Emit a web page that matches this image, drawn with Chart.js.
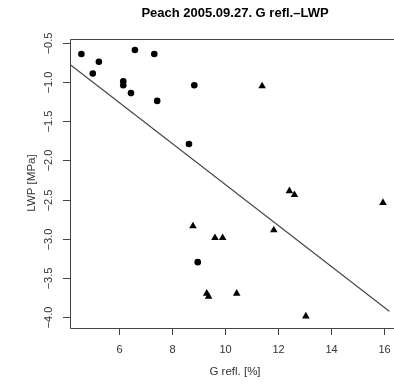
<!DOCTYPE html>
<html>
<head>
<meta charset="utf-8">
<script src="https://cdn.jsdelivr.net/npm/chart.js@4/dist/chart.umd.min.js"></script>
<style>
  body { margin: 0; background: #fff; }
  canvas { display: block; }
</style>
</head>
<body>
<canvas id="plot" width="394" height="391"></canvas>
<script>
// Circles: first group, G refl. [%] vs LWP [MPa]
const circleX = [4.58, 5.24, 5.01, 6.60, 7.33, 6.16, 6.16, 6.45, 7.44, 8.84, 8.64, 8.97];
const circleY = [-0.64, -0.74, -0.89, -0.59, -0.64, -0.99, -1.04, -1.14, -1.24, -1.04, -1.79, -3.30];

// Triangles: second group
const triX = [11.40, 12.43, 12.62, 15.96, 8.79, 11.84, 9.62, 9.91, 9.31, 9.38, 10.44, 13.05];
const triY = [-1.05, -2.39, -2.44, -2.54, -2.84, -2.89, -2.99, -2.99, -3.70, -3.74, -3.70, -3.99];

// fitted line LWP = a + b * G
const fitA = 0.312;
const fitB = -0.2617;

const xTicks = [6, 8, 10, 12, 14, 16];
const yTicks = [-0.5, -1.0, -1.5, -2.0, -2.5, -3.0, -3.5, -4.0];

const xMin = 4.15, xMax = 16.21;
const yMin = -4.141, yMax = -0.449;

const toPts = (xs, ys) => xs.map((x, i) => ({ x: x, y: ys[i] }));
const fitLine = [xMin, xMax].map(x => ({ x: x, y: fitA + fitB * x }));

const FONT = '"Liberation Sans", Arial, sans-serif';

// draws the R-style box, ticks, labels and titles
const rAxes = {
  id: 'rAxes',
  afterDraw(chart) {
    const ctx = chart.ctx;
    const a = chart.chartArea;
    const xs = chart.scales.x, ys = chart.scales.y;
    ctx.save();
    ctx.strokeStyle = '#444';
    ctx.lineWidth = 1;
    ctx.beginPath();
    ctx.moveTo(a.right + 5, a.top + 0.5);
    ctx.lineTo(a.left + 0.5, a.top + 0.5);
    ctx.lineTo(a.left + 0.5, a.bottom + 0.5);
    ctx.lineTo(a.right + 5, a.bottom + 0.5);
    ctx.stroke();

    ctx.fillStyle = '#333';
    ctx.font = '11px ' + FONT;
    ctx.textAlign = 'center';
    ctx.textBaseline = 'middle';
    xTicks.forEach(v => {
      const px = Math.round(xs.getPixelForValue(v)) + 0.5;
      ctx.beginPath();
      ctx.moveTo(px, a.bottom);
      ctx.lineTo(px, a.bottom + 7);
      ctx.stroke();
      ctx.fillText(String(v), px, a.bottom + 22);
    });
    yTicks.forEach(v => {
      const py = Math.round(ys.getPixelForValue(v)) + 0.5;
      ctx.beginPath();
      ctx.moveTo(a.left - 7, py);
      ctx.lineTo(a.left, py);
      ctx.stroke();
      ctx.save();
      ctx.translate(a.left - 21, py);
      ctx.rotate(-Math.PI / 2);
      ctx.fillText(v.toFixed(1).replace('-', '\u2212'), 0, 0);
      ctx.restore();
    });

    ctx.font = '11.5px ' + FONT;
    ctx.fillText('G refl. [%]', 235, 372);
    ctx.save();
    ctx.translate(32, 183);
    ctx.rotate(-Math.PI / 2);
    ctx.fillText('LWP [MPa]', 0, 0);
    ctx.restore();

    ctx.fillStyle = '#000';
    ctx.font = 'bold 13px ' + FONT;
    ctx.fillText('Peach 2005.09.27. G refl.\u2013LWP', 235, 13);
    ctx.restore();
  }
};

new Chart(document.getElementById('plot'), {
  type: 'scatter',
  data: {
    datasets: [
      {
        label: 'circles',
        data: toPts(circleX, circleY),
        pointStyle: 'circle',
        pointRadius: 3.3,
        backgroundColor: '#000',
        borderColor: '#000',
        borderWidth: 0
      },
      {
        label: 'triangles',
        data: toPts(triX, triY),
        pointStyle: 'triangle',
        pointRadius: 4.4,
        backgroundColor: '#000',
        borderColor: '#000',
        borderWidth: 0
      },
      {
        type: 'line',
        label: 'fit',
        data: fitLine,
        borderColor: '#444',
        borderWidth: 1.1,
        pointRadius: 0,
        fill: false
      }
    ]
  },
  options: {
    responsive: false,
    animation: false,
    layout: { padding: { left: 70, top: 39, right: 0, bottom: 63 } },
    plugins: {
      legend: { display: false },
      tooltip: { enabled: false }
    },
    scales: {
      x: { type: 'linear', min: xMin, max: xMax, display: false },
      y: { type: 'linear', min: yMin, max: yMax, display: false }
    }
  },
  plugins: [rAxes]
});
</script>
</body>
</html>
